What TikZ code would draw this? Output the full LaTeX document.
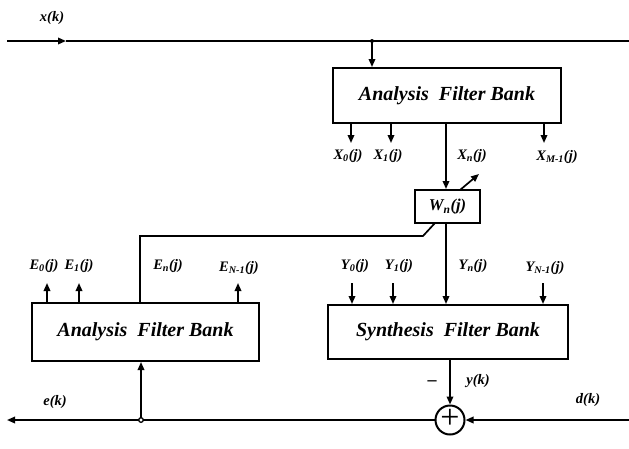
\documentclass[tikz,border=0pt]{standalone}
\usepackage{fontspec}
\setmainfont{Liberation Serif}
\usetikzlibrary{arrows.meta,calc}
\begin{document}
\begin{tikzpicture}[x=1pt,y=-1pt,line width=1.7pt,
  box/.style={draw,line width=2pt,inner sep=0pt,font=\fontsize{20}{22}\selectfont\bfseries\itshape},
  lab/.style={font=\fontsize{14.5}{16}\selectfont\bfseries\itshape,inner sep=1pt},
  arr/.style={-{Triangle[length=8pt,width=6.5pt]}},
]
\useasboundingbox (0,0) rectangle (629,448);
% boxes
\node[box,minimum width=228pt,minimum height=55pt] (afbT) at (447,95.5) {Analysis\ \ Filter Bank};
\node[box,minimum width=65pt,minimum height=33pt,font=\fontsize{16.5}{18}\selectfont\bfseries\itshape] (W) at (447.5,206.5) {W\textsubscript{n}(j)};
\node[box,minimum width=227pt,minimum height=58pt] (afbL) at (145.5,332) {Analysis\ \ Filter Bank};
\node[box,minimum width=240pt,minimum height=54pt] (sfb) at (448,332) {Synthesis\ \ Filter Bank};
\node[draw,circle,line width=2pt,minimum size=29pt,inner sep=0pt,font=\fontsize{34}{34}\selectfont] (sum) at (450,420) {\raisebox{1.5pt}{+}};
% top input line
\coordinate (inL) at (7,41);
\coordinate (xarr) at (66,41);
\coordinate (inR) at (629,41);
\coordinate (jx) at (372,41);
\draw[arr] (inL) -- (xarr);
\draw (xarr) -- (inR);
\fill (jx) circle (2);
\draw[arr] (jx) -- (jx |- afbT.north);
\node[lab] (xk) at (52,18) {x(k)};
% X outputs
\coordinate (x0e) at (351,143);
\coordinate (x1e) at (391,143);
\coordinate (x3e) at (544,143);
\coordinate (cx) at (446,0);
\draw[arr] (afbT.south -| x0e) -- (x0e);
\draw[arr] (afbT.south -| x1e) -- (x1e);
\draw[arr] (afbT.south -| x3e) -- (x3e);
\draw[arr] (afbT.south -| cx) -- (W.north -| cx);
\node[lab] (X0) at (348,156) {X\textsubscript{0}(j)};
\node[lab] (X1) at (388,156) {X\textsubscript{1}(j)};
\node[lab] (Xn) at (472,156) {X\textsubscript{n}(j)};
\node[lab] (Xm) at (557,157) {X\textsubscript{M-1}(j)};
\coordinate (wd0) at (460,190);
\coordinate (wd1) at (479,174);
\draw[arr] (wd0) -- (wd1);
% from W to left analysis bank
\coordinate (wl0) at (435,223);
\coordinate (wl1) at (423,236);
\coordinate (el) at (140,236);
\draw (wl0) -- (wl1) -- (el) -- (afbL.north -| el);
% W to synthesis
\draw[arr] (W.south -| cx) -- (sfb.north -| cx);
% Y inputs
\coordinate (y0s) at (352,283);
\coordinate (y1s) at (393,283);
\coordinate (y3s) at (543,283);
\draw[arr] (y0s) -- (sfb.north -| y0s);
\draw[arr] (y1s) -- (sfb.north -| y1s);
\draw[arr] (y3s) -- (sfb.north -| y3s);
\node[lab] (Y0) at (355,266) {Y\textsubscript{0}(j)};
\node[lab] (Y1) at (399,266) {Y\textsubscript{1}(j)};
\node[lab] (Yn) at (473,266) {Y\textsubscript{n}(j)};
\node[lab] (Ym) at (545,268) {Y\textsubscript{N-1}(j)};
% E outputs
\coordinate (e0e) at (47,283);
\coordinate (e1e) at (79,283);
\coordinate (e3e) at (238,283);
\draw[arr] (afbL.north -| e0e) -- (e0e);
\draw[arr] (afbL.north -| e1e) -- (e1e);
\draw[arr] (afbL.north -| e3e) -- (e3e);
\node[lab] (E0) at (44,266) {E\textsubscript{0}(j)};
\node[lab] (E1) at (79,266) {E\textsubscript{1}(j)};
\node[lab] (En) at (168,266) {E\textsubscript{n}(j)};
\node[lab] (Em) at (239,268) {E\textsubscript{N-1}(j)};
% bottom line
\coordinate (outL) at (7,420);
\coordinate (jb) at (141,420);
\coordinate (dR) at (629,420);
\draw[arr] (sum.west) -- (outL);
\draw[arr] (jb) -- (afbL.south -| jb);
\draw[line width=1.3pt,fill=white] (jb) circle (2.3);
\draw[arr] (dR) -- (sum.east);
\draw[arr] (sfb.south -| sum) -- (sum.north);
\node[lab] (ek) at (55,402) {e(k)};
\node[lab] (dk) at (588,400) {d(k)};
\node[lab] (yk) at (478,381) {y(k)};
\node[lab,font=\fontsize{18}{18}\selectfont\bfseries] (minus) at (432,383) {--};
\end{tikzpicture}
\end{document}
